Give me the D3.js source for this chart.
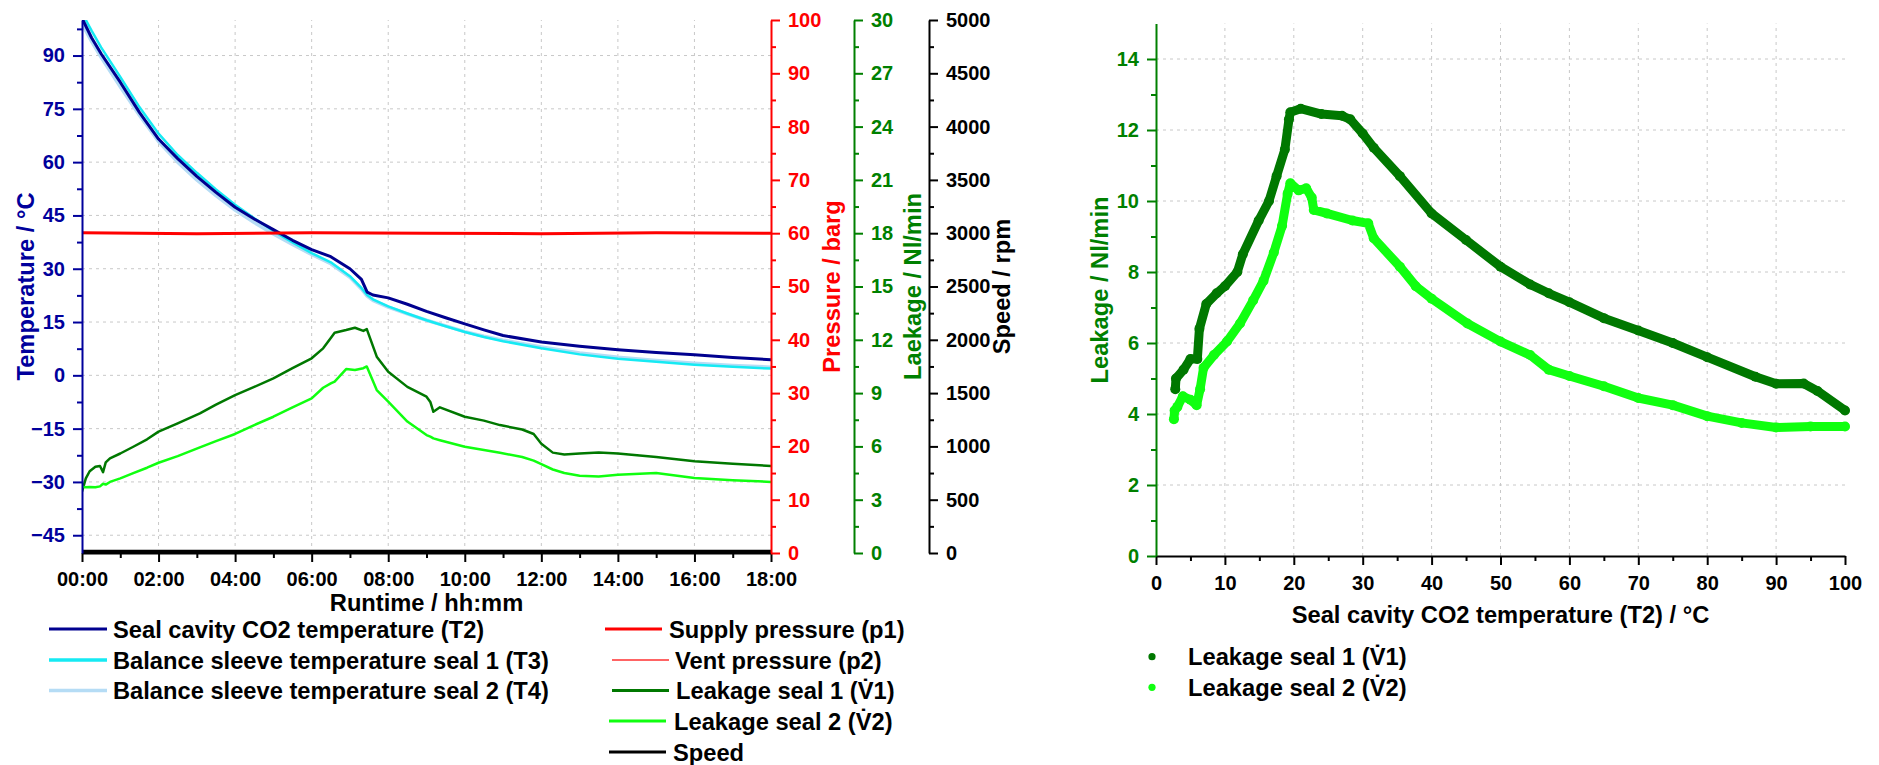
<!DOCTYPE html>
<html>
<head>
<meta charset="utf-8">
<script src="https://cdn.jsdelivr.net/npm/d3@7"></script>
<style>
  body{margin:0;background:#ffffff;}
  text{font-family:Arial,"Liberation Sans",sans-serif;font-weight:bold;}
</style>
</head>
<body>
<div id="chart"></div>
<script>
//data (hours)
var temp_time = [0, 0.25, 0.5, 1, 1.5, 2, 2.5, 3, 3.5, 4, 4.5, 5, 5.5, 6, 6.5, 7, 7.3, 7.45, 7.6, 8, 8.5, 9, 9.5, 10, 10.5, 11, 12, 13, 14, 15, 16, 17, 18]
var t2_temp = [100.5, 95, 90.5, 82.5, 74, 66.5, 61, 56, 51.5, 47.3, 44, 41, 38, 35.4, 33.4, 30, 27, 23.4, 22.6, 21.8, 20, 18, 16.2, 14.5, 12.8, 11.2, 9.4, 8.2, 7.2, 6.4, 5.8, 5.0, 4.4]
var t3_temp = [102, 97, 92.3, 84, 75.5, 68, 62, 57, 52.3, 48, 44.2, 40.6, 37.4, 34.4, 31.8, 27.9, 24.6, 22.6, 21.4, 19.4, 17.4, 15.5, 13.8, 12.2, 10.8, 9.6, 7.6, 5.9, 4.7, 3.8, 3.0, 2.4, 1.9]
var t4_temp = [99, 94, 89.5, 81.2, 73.2, 65.8, 60, 55, 50.6, 46.5, 43, 39.8, 36.8, 34, 31.4, 27.6, 24.3, 22.3, 21.1, 19.2, 17.3, 15.5, 13.9, 12.3, 11, 9.9, 8.0, 6.3, 5.1, 4.2, 3.4, 2.8, 2.3]

var pres_time = [0, 3, 6, 9, 12, 15, 18]
var p1_pres = [60.1, 59.9, 60.1, 60.0, 59.9, 60.1, 60.0]
var p2_pres = [0.2, 0.2, 0.2, 0.2, 0.2, 0.2, 0.2]
var speed_rpm = [15, 15, 15, 15, 15, 15, 15]

var leak_time = [0, 0.1, 0.2, 0.35, 0.47, 0.55, 0.62, 0.73, 1, 1.34, 1.7, 2, 2.5, 3.08, 3.5, 4, 4.5, 5, 5.5, 6, 6.3, 6.5, 6.6, 6.9, 7.13, 7.35, 7.44, 7.7, 8, 8.5, 9, 9.1, 9.18, 9.35, 10, 10.5, 10.92, 11.5, 11.8, 12, 12.3, 12.6, 13, 13.5, 14, 15, 16, 17, 18]
var v1_leak = [3.45, 4.2, 4.6, 4.85, 4.9, 4.55, 5.1, 5.33, 5.6, 5.98, 6.4, 6.83, 7.3, 7.86, 8.35, 8.89, 9.35, 9.83, 10.4, 10.96, 11.52, 12.1, 12.4, 12.55, 12.68, 12.5, 12.6, 11.05, 10.2, 9.35, 8.8, 8.5, 7.95, 8.2, 7.67, 7.45, 7.2, 6.95, 6.7, 6.15, 5.65, 5.55, 5.6, 5.65, 5.6, 5.4, 5.17, 5.02, 4.9]
var v2_leak = [3.73, 3.7, 3.72, 3.7, 3.75, 3.9, 3.85, 4.0, 4.2, 4.5, 4.8, 5.08, 5.45, 5.95, 6.3, 6.7, 7.2, 7.67, 8.2, 8.7, 9.3, 9.55, 9.65, 10.35, 10.3, 10.4, 10.5, 9.17, 8.52, 7.4, 6.64, 6.55, 6.45, 6.35, 5.98, 5.8, 5.64, 5.4, 5.2, 5.0, 4.7, 4.5, 4.35, 4.3, 4.4, 4.5, 4.22, 4.1, 4.0]

//data
var sc1_temp = [2.8, 2.9, 4, 5, 6, 6.3, 7.3, 8.8, 10, 11.8, 12.6, 14.9, 16.4, 17.5, 18.7, 19.3, 19.5, 21, 24, 27, 28.2, 30, 31.6, 35.4, 40, 45, 50, 54.3, 57, 60, 65, 70, 75, 80, 87, 90, 94, 96, 100]
var sc1_leak = [4.7, 5.0, 5.25, 5.55, 5.55, 6.4, 7.1, 7.4, 7.6, 8.0, 8.5, 9.45, 10.0, 10.7, 11.45, 12.3, 12.5, 12.6, 12.45, 12.4, 12.3, 11.9, 11.5, 10.7, 9.65, 8.9, 8.15, 7.65, 7.4, 7.15, 6.7, 6.35, 6.0, 5.6, 5.05, 4.85, 4.86, 4.65, 4.1]
var sc2_temp = [2.6, 2.7, 3.1, 3.9, 5, 5.9, 6.4, 6.9, 8.4, 10.3, 12.2, 14.1, 15.6, 17.1, 18.3, 19.1, 19.5, 20.7, 21.8, 22.6, 22.9, 24.8, 28.5, 30.8, 31.6, 35.4, 37.7, 40, 45.2, 50, 54.3, 57, 60, 65, 70, 75, 80, 85, 90, 95, 100]
var sc2_leak = [3.85, 4.1, 4.2, 4.5, 4.4, 4.25, 4.7, 5.3, 5.66, 6.04, 6.55, 7.2, 7.75, 8.55, 9.3, 10.2, 10.5, 10.3, 10.36, 10.1, 9.75, 9.65, 9.45, 9.37, 8.95, 8.15, 7.6, 7.25, 6.55, 6.04, 5.66, 5.25, 5.07, 4.78, 4.45, 4.25, 3.94, 3.75, 3.62, 3.65, 3.65]

//tick labels and legend texts
var time_ticks = [0, 2, 4, 6, 8, 10, 12, 14, 16, 18]
var temp_ticks = [-45, -30, -15, 0, 15, 30, 45, 60, 75, 90]
var pres_ticks = [0, 10, 20, 30, 40, 50, 60, 70, 80, 90, 100]
var leak_ticks = [0, 3, 6, 9, 12, 15, 18, 21, 24, 27, 30]
var speed_ticks = [0, 500, 1000, 1500, 2000, 2500, 3000, 3500, 4000, 4500, 5000]
var sc_x_ticks = [0, 10, 20, 30, 40, 50, 60, 70, 80, 90, 100]
var sc_y_ticks = [0, 2, 4, 6, 8, 10, 12, 14]

var legend_left = ["Seal cavity CO2 temperature (T2)", "Balance sleeve temperature seal 1 (T3)", "Balance sleeve temperature seal 2 (T4)"]
var legend_right = ["Supply pressure (p1)", "Vent pressure (p2)", "Leakage seal 1 (V\u03071)", "Leakage seal 2 (V\u03072)", "Speed"]
var legend_sc = ["Leakage seal 1 (V\u03071)", "Leakage seal 2 (V\u03072)"]

//colors
var col_temp_axis = "#00009C"
var col_t2 = "#00008F", col_t3 = "#16EAF3", col_t4 = "#B5DCF5"
var col_p1 = "#FF0000", col_p2 = "#FF3030"
var col_v1 = "#007800", col_v2 = "#10FF10"
var col_green_axis = "#008000"

var width = 1879, height = 765
var svg = d3.select("#chart").append("svg")
  .attr("width", width).attr("height", height)

//scales of the runtime plot
var x_time = d3.scaleLinear().domain([0, 18]).range([82, 771])
var y_temp = d3.scaleLinear().domain([-50, 100]).range([553, 20])
var y_pres = d3.scaleLinear().domain([0, 100]).range([553, 20])
var y_leak = d3.scaleLinear().domain([0, 30]).range([553, 20])
var y_speed = d3.scaleLinear().domain([0, 5000]).range([553, 20])

//scales of the scatter plot
var x_sc = d3.scaleLinear().domain([0, 100]).range([1156, 1845])
var y_sc = d3.scaleLinear().domain([0, 15]).range([556, 23.5])

//grid helper
function draw_grid(g, xs, xv, ys, yv){
  g.selectAll("line.gx").data(xv).enter().append("line")
    .attr("x1", function(d){return xs(d);}).attr("x2", function(d){return xs(d);})
    .attr("y1", ys.range()[0]).attr("y2", ys.range()[1])
  g.selectAll("line.gy").data(yv).enter().append("line")
    .attr("y1", function(d){return ys(d);}).attr("y2", function(d){return ys(d);})
    .attr("x1", xs.range()[0]).attr("x2", xs.range()[1])
  g.selectAll("line")
    .style("stroke", "#c8c8c8").style("stroke-width", 1)
    .style("stroke-dasharray", "3,4")
}

var grid_left = svg.append("g")
draw_grid(grid_left, x_time, [2, 4, 6, 8, 10, 12, 14, 16], y_temp, temp_ticks)
var grid_right = svg.append("g")
draw_grid(grid_right, x_sc, [10, 20, 30, 40, 50, 60, 70, 80, 90], y_sc, [2, 4, 6, 8, 10, 12, 14])

//clip for the runtime plot
svg.append("defs").append("clipPath").attr("id", "clip_left")
  .append("rect").attr("x", 82).attr("y", 20).attr("width", 689).attr("height", 534)

var plot_left = svg.append("g").attr("clip-path", "url(#clip_left)")

function add_line(xs, ys, xd, yd, color, w){
  var pts = xd.map(function(d, i){return [d, yd[i]];})
  plot_left.append("path")
    .datum(pts)
    .attr("d", d3.line().x(function(d){return xs(d[0]);}).y(function(d){return ys(d[1]);}))
    .style("fill", "none").style("stroke", color)
    .style("stroke-width", w).style("stroke-linejoin", "round")
}

add_line(x_time, y_temp, temp_time, t4_temp, col_t4, 3.5)
add_line(x_time, y_temp, temp_time, t3_temp, col_t3, 2.5)
add_line(x_time, y_temp, temp_time, t2_temp, col_t2, 3)
add_line(x_time, y_pres, pres_time, p1_pres, col_p1, 3)
add_line(x_time, y_pres, pres_time, p2_pres, col_p2, 1)
add_line(x_time, y_leak, leak_time, v1_leak, col_v1, 2.5)
add_line(x_time, y_leak, leak_time, v2_leak, col_v2, 2.5)
add_line(x_time, y_speed, pres_time, speed_rpm, "#000000", 3.5)

//axis helper: major ticks with labels plus minor ticks
function draw_axis(axis_fn, scale, pos, ticks, minor, fmt, color, pad){
  var g = svg.append("g").attr("transform", pos)
  g.call(axis_fn(scale).tickValues(ticks).tickFormat(fmt).tickSize(9).tickSizeOuter(0).tickPadding(pad))
  g.append("g").call(axis_fn(scale).tickValues(minor).tickFormat("").tickSize(5).tickSizeOuter(0))
    .select(".domain").remove()
  g.selectAll("path,line").style("stroke", color).style("stroke-width", 2)
  g.selectAll("text").style("fill", color).style("font-size", "20px")
    .style("font-family", "Arial, 'Liberation Sans', sans-serif").style("font-weight", "bold")
  return g
}

var time_fmt = function(d){return d3.format("02d")(d) + ":00";}
var minor_time = d3.range(1, 18, 2)

draw_axis(d3.axisBottom, x_time, "translate(0,553)", time_ticks, minor_time, time_fmt, "#000000", 10)
draw_axis(d3.axisLeft, y_temp, "translate(82,0)", temp_ticks, [-37.5, -22.5, -7.5, 7.5, 22.5, 37.5, 52.5, 67.5, 82.5, 97.5], d3.format("d"), col_temp_axis, 8)
draw_axis(d3.axisRight, y_pres, "translate(771,0)", pres_ticks, d3.range(5, 100, 10), d3.format("d"), "#FF0000", 8)
draw_axis(d3.axisRight, y_leak, "translate(854,0)", leak_ticks, d3.range(1.5, 30, 3), d3.format("d"), col_green_axis, 8)
draw_axis(d3.axisRight, y_speed, "translate(929,0)", speed_ticks, d3.range(250, 5000, 500), d3.format("d"), "#000000", 8)

draw_axis(d3.axisBottom, x_sc, "translate(0,556)", sc_x_ticks, d3.range(5, 100, 10), d3.format("d"), "#000000", 11)
draw_axis(d3.axisLeft, y_sc, "translate(1156,0)", sc_y_ticks, d3.range(1, 15, 2), d3.format("d"), col_green_axis, 8)

//axis titles
function add_title(x, y, rot, txt, color){
  svg.append("text")
    .attr("transform", "translate(" + x + "," + y + ") rotate(" + rot + ")")
    .attr("text-anchor", "middle")
    .style("font-size", "23.7px").style("fill", color)
    .text(txt)
}
add_title(426.5, 611, 0, "Runtime / hh:mm", "#000000")
add_title(34, 286.5, -90, "Temperature / \u00B0C", col_temp_axis)
add_title(840, 286.5, -90, "Pressure / barg", "#FF0000")
add_title(921, 286.5, -90, "Laekage / Nl/min", col_green_axis)
add_title(1010, 286.5, -90, "Speed / rpm", "#000000")
add_title(1500.5, 623, 0, "Seal cavity CO2 temperature (T2) / \u00B0C", "#000000")
add_title(1107.5, 290, -90, "Leakage / Nl/min", col_green_axis)

//scatter plot: dense markers drawn as a thick band plus dots
function add_scatter(xd, yd, color){
  var pts = xd.map(function(d, i){return [d, yd[i]];})
  svg.append("path")
    .datum(pts)
    .attr("d", d3.line().x(function(d){return x_sc(d[0]);}).y(function(d){return y_sc(d[1]);}))
    .style("fill", "none").style("stroke", color).style("stroke-width", 9)
    .style("stroke-linejoin", "round").style("stroke-linecap", "round")
  svg.append("g").selectAll("circle").data(pts).enter().append("circle")
    .attr("cx", function(d){return x_sc(d[0]);})
    .attr("cy", function(d){return y_sc(d[1]);})
    .attr("r", 5).style("fill", color)
}
add_scatter(sc1_temp, sc1_leak, col_v1)
add_scatter(sc2_temp, sc2_leak, col_v2)

//legends
var left_colors = [col_t2, col_t3, col_t4]
var left_widths = [3, 3.5, 3.5]
var left_y = [629, 660, 690.5]
legend_left.forEach(function(d, i){
  svg.append("line").attr("x1", 49).attr("x2", 107).attr("y1", left_y[i]).attr("y2", left_y[i])
    .style("stroke", left_colors[i]).style("stroke-width", left_widths[i])
  svg.append("text").attr("x", 113).attr("y", left_y[i] + 8.5)
    .style("font-size", "23.7px").text(d)
})

var right_colors = [col_p1, col_p2, col_v1, col_v2, "#000000"]
var right_widths = [3, 1.3, 3, 3, 3]
var right_y = [629, 660, 690.5, 721, 752]
var right_x1 = [605, 612, 612, 609, 609]
var right_tx = [669, 675, 676, 674, 673]
legend_right.forEach(function(d, i){
  svg.append("line").attr("x1", right_x1[i]).attr("x2", right_x1[i] + 57)
    .attr("y1", right_y[i]).attr("y2", right_y[i])
    .style("stroke", right_colors[i]).style("stroke-width", right_widths[i])
  svg.append("text").attr("x", right_tx[i]).attr("y", right_y[i] + 8.5)
    .style("font-size", "23.7px").text(d)
})

var sc_colors = [col_v1, col_v2]
var sc_y = [656.7, 687.3]
legend_sc.forEach(function(d, i){
  svg.append("circle").attr("cx", 1152).attr("cy", sc_y[i]).attr("r", 3.6).style("fill", sc_colors[i])
  svg.append("text").attr("x", 1188).attr("y", sc_y[i] + 8.5)
    .style("font-size", "23.7px").text(d)
})
</script>
</body>
</html>
